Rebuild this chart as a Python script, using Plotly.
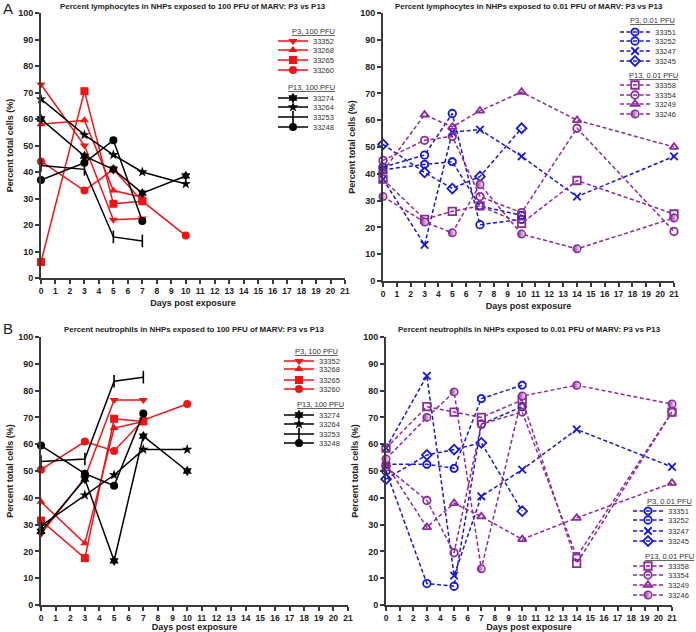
import plotly.graph_objects as go

W, H = 696, 632
FONT = "Liberation Sans, Arial, sans-serif"


def px(x):
    return x / W


def py(y):
    return 1 - y / H


# ---------------- data ----------------
ids_p3_100 = ["33352", "33268", "33265", "33260"]
ids_p13_100 = ["33274", "33264", "33253", "33248"]
ids_p3_001 = ["33351", "33252", "33247", "33245"]
ids_p13_001 = ["33358", "33354", "33249", "33246"]

days_d7 = [0, 3, 5, 7]
days_d10 = [0, 3, 5, 7, 10]
days_d21 = [0, 3, 5, 7, 10, 14, 21]

# Lymphocytes, 100 PFU
lym100_33352 = [73, 50, 22, 22.5]
lym100_33268 = [58, 59.5, 33, 30.5]
lym100_33265 = [6, 70.5, 28, 29]
lym100_33260 = [44, 33, 41, 29, 16]
lym100_33274 = [60, 46, 41, 32, 38.5]
lym100_33264 = [67.5, 54, 46.5, 40, 35.5]
lym100_33253 = [42.5, 41, 15.5, 14]
lym100_33248 = [37, 43.5, 52, 21.5]

# Lymphocytes, 0.01 PFU
lym001_33351 = [41.5, 43.5, 44.5, 28, 24.5]
lym001_33252 = [42.5, 47, 62.5, 21, 23]
lym001_33247 = [38, 13.5, 55.5, 56.5, 46.5, 31.5, 46.5]
lym001_33245 = [51, 40.5, 34.5, 39, 57]
lym001_33358 = [38, 23, 26, 28, 21.5, 37.5, 25]
lym001_33354 = [45, 52.5, 54, 31.5, 25.5, 57, 18.5]
lym001_33249 = [41, 62, 57.5, 63.5, 70.5, 60, 50]
lym001_33246 = [31.5, 22, 18, 36, 17.5, 12, 23.5]

# Neutrophils, 100 PFU
neu100_33352 = [26.5, 47.5, 76.5, 76.5]
neu100_33268 = [38.5, 23, 66, 68.5]
neu100_33265 = [31.5, 17.5, 69.5, 68.5]
neu100_33260 = [50.5, 61, 57.5, 69, 75]
neu100_33274 = [27.5, 47, 16.5, 63, 50]
neu100_33264 = [29.5, 41, 48.5, 58, 58]
neu100_33253 = [53.5, 54.5, 83.5, 85]
neu100_33248 = [59.5, 49, 44.5, 71.5]

# Neutrophils, 0.01 PFU
neu001_33351 = [52.5, 52.5, 51, 77, 82]
neu001_33252 = [50, 8, 7, 67.5, 74]
neu001_33247 = [58.5, 85.5, 11, 40.5, 50.5, 65.5, 51.5]
neu001_33245 = [47, 56, 58, 60.5, 35]
neu001_33358 = [58.5, 74, 72, 70, 76.5, 15.5, 72]
neu001_33354 = [51.5, 39, 19.5, 67.5, 72, 18, 72]
neu001_33249 = [52.5, 29, 38, 33, 24.5, 32.5, 45.5]
neu001_33246 = [54.5, 70, 79.5, 13.5, 78, 82, 75]

x_ticks = list(range(0, 22))
y_ticks = list(range(0, 101, 10))

titles = [
    "Percent lymphocytes in NHPs exposed to 100 PFU of MARV: P3 vs P13",
    "Percent lymphocytes in NHPs exposed to 0.01 PFU of MARV: P3 vs P13",
    "Percent neutrophils in NHPs exposed to 100 PFU of MARV: P3 vs P13",
    "Percent neutrophils in NHPs exposed to 0.01 PFU of MARV: P3 vs P13",
]
group_titles = [
    ("P3, 100 PFU", "P13, 100 PFU"),
    ("P3, 0.01 PFU", "P13, 0.01 PFU"),
    ("P3, 100 PFU", "P13, 100 PFU"),
    ("P3, 0.01 PFU", "P13, 0.01 PFU"),
]

# ---------------- styles ----------------
RED = "#f01414"
BLACK = "#000000"
BLUE = "#1717d9"
PURPLE = "#8c2a9c"

sty_p3_100 = [("triangle-down", RED), ("triangle-up", RED), ("square", RED), ("circle", RED)]
sty_p13_100 = [("hexagram", BLACK), ("star", BLACK), ("line-ns-open", BLACK), ("circle", BLACK)]
sty_p3_001 = [("octagon-open", BLUE), ("circle-open", BLUE), ("x-thin-open", BLUE), ("diamond-open", BLUE)]
sty_p13_001 = [("square-open", PURPLE), ("circle-open", PURPLE), ("triangle-up-open", PURPLE), ("half", PURPLE)]

panels = [
    dict(  # A left
        xd=(41, 345), yd=(13, 278),
        series=[(days_d7, lym100_33352), (days_d7, lym100_33268), (days_d7, lym100_33265), (days_d10, lym100_33260),
                (days_d10, lym100_33274), (days_d10, lym100_33264), (days_d7, lym100_33253), (days_d7, lym100_33248)],
        ids=ids_p3_100 + ids_p13_100, sty=sty_p3_100 + sty_p13_100, dash="solid",
        title_xy=(193, 6),
        hdr=[(290, 31), (286, 88)], leg_tx=310,
        leg_y=[41, 50, 60, 70, 98, 107, 117, 127],
    ),
    dict(  # A right
        xd=(383, 674), yd=(13, 281),
        series=[(days_d10, lym001_33351), (days_d10, lym001_33252), (days_d21, lym001_33247), (days_d10, lym001_33245),
                (days_d21, lym001_33358), (days_d21, lym001_33354), (days_d21, lym001_33249), (days_d21, lym001_33246)],
        ids=ids_p3_001 + ids_p13_001, sty=sty_p3_001 + sty_p13_001, dash="4px,2.5px",
        title_xy=(529, 6),
        hdr=[(628, 21), (627, 76)], leg_tx=652,
        leg_y=[32, 41, 51, 61, 85, 95, 104, 114],
    ),
    dict(  # B left
        xd=(41, 348), yd=(337, 605),
        series=[(days_d7, neu100_33352), (days_d7, neu100_33268), (days_d7, neu100_33265), (days_d10, neu100_33260),
                (days_d10, neu100_33274), (days_d10, neu100_33264), (days_d7, neu100_33253), (days_d7, neu100_33248)],
        ids=ids_p3_100 + ids_p13_100, sty=sty_p3_100 + sty_p13_100, dash="solid",
        title_xy=(194, 329),
        hdr=[(293, 351), (295, 404)], leg_tx=316,
        leg_y=[361, 369, 380, 389, 415, 424, 434, 443],
    ),
    dict(  # B right
        xd=(386, 672), yd=(337, 605),
        series=[(days_d10, neu001_33351), (days_d10, neu001_33252), (days_d21, neu001_33247), (days_d10, neu001_33245),
                (days_d21, neu001_33358), (days_d21, neu001_33354), (days_d21, neu001_33249), (days_d21, neu001_33246)],
        ids=ids_p3_001 + ids_p13_001, sty=sty_p3_001 + sty_p13_001, dash="4px,2.5px",
        title_xy=(529, 329),
        hdr=[(645, 501), (643, 556)], leg_tx=665,
        leg_y=[511, 520, 531, 541, 566, 575, 585, 595],
    ),
]

fig = go.Figure()
layout = dict(
    width=W, height=H,
    margin=dict(l=0, r=0, t=0, b=0, autoexpand=False),
    paper_bgcolor="white", plot_bgcolor="white",
    showlegend=True,
    font=dict(family=FONT, color="#222"),
)
annotations = []
k = 0
for p_i, p in enumerate(panels):
    ax = "" if p_i == 0 else str(p_i + 1)
    xa, ya = "x" + ax, "y" + ax
    axis_common = dict(
        showline=True, linewidth=2, linecolor="#3a3a3a",
        ticks="outside", ticklen=4, tickwidth=1.5, tickcolor="#3a3a3a",
        showgrid=False, zeroline=False, fixedrange=True,
    )
    layout["xaxis" + ax] = dict(
        axis_common, domain=[px(p["xd"][0]), px(p["xd"][1])], anchor=ya,
        range=[0, 21], tickvals=x_ticks, ticktext=[str(t) for t in x_ticks],
        tickfont=dict(size=8.5, family=FONT, weight="bold", color="#222"),
        title=dict(text="Days post exposure", standoff=4,
                   font=dict(size=9, family=FONT, weight="bold", color="#222")),
    )
    layout["yaxis" + ax] = dict(
        axis_common, domain=[py(p["yd"][1]), py(p["yd"][0])], anchor=xa,
        range=[0, 100], tickvals=y_ticks, ticktext=[str(t) for t in y_ticks],
        tickfont=dict(size=9, family=FONT, weight="bold", color="#222"),
        title=dict(text="Percent total cells (%)", standoff=3,
                   font=dict(size=9, family=FONT, weight="bold", color="#222")),
    )
    annotations.append(dict(
        text=titles[p_i], x=px(p["title_xy"][0]), y=py(p["title_xy"][1]), xref="paper", yref="paper",
        xanchor="center", yanchor="middle", showarrow=False,
        font=dict(size=7.9, family=FONT, weight="bold", color="#222"),
    ))
    for g, (hx, hy) in enumerate(p["hdr"]):
        annotations.append(dict(
            text="<u>" + group_titles[p_i][g] + "</u>", x=px(hx), y=py(hy), xref="paper", yref="paper",
            xanchor="left", yanchor="middle", showarrow=False,
            font=dict(size=7.5, family=FONT, color="#333"),
        ))
    for i, ((dx, vals), name, (sym, col)) in enumerate(zip(p["series"], p["ids"], p["sty"])):
        k += 1
        lkey = "legend" if k == 1 else f"legend{k}"
        open_sym = sym.endswith("-open")
        marker = dict(size=8 if not open_sym else 7.5, color=col, line=dict(width=1.8 if open_sym else 0, color=col))
        if sym == "half":
            marker = dict(size=7.5, symbol="circle", color=col,
                          gradient=dict(type="horizontal", color="white"),
                          line=dict(width=1.5, color=col))
        else:
            marker["symbol"] = sym
        if sym == "line-ns-open":
            marker["size"] = 9
            marker["line"]["width"] = 1.6
        if sym == "hexagram":
            marker["size"] = 8
        fig.add_trace(go.Scatter(
            x=dx, y=vals, mode="lines+markers", name=name,
            xaxis=xa, yaxis=ya, legend=lkey, cliponaxis=False,
            line=dict(color=col, width=1.5, dash=p["dash"]),
            marker=marker,
        ))
        layout[lkey] = dict(
            x=px(p["leg_tx"] - 37), y=py(p["leg_y"][i]), xref="paper", yref="paper",
            xanchor="left", yanchor="middle", bgcolor="rgba(0,0,0,0)", borderwidth=0,
            font=dict(size=7.5, family=FONT, color="#333"), itemwidth=30,
        )

annotations.append(dict(text="A", x=px(1), y=py(9), xref="paper", yref="paper", xanchor="left",
                        yanchor="middle", showarrow=False, font=dict(size=15, family=FONT, color="#222")))
annotations.append(dict(text="B", x=px(1), y=py(328), xref="paper", yref="paper", xanchor="left",
                        yanchor="middle", showarrow=False, font=dict(size=15, family=FONT, color="#222")))
layout["annotations"] = annotations
fig.update_layout(**layout)
fig.write_html(
    "out.html",
    config={"displayModeBar": False},
    post_script="document.body.style.margin='0';document.body.style.overflow='hidden';",
)
